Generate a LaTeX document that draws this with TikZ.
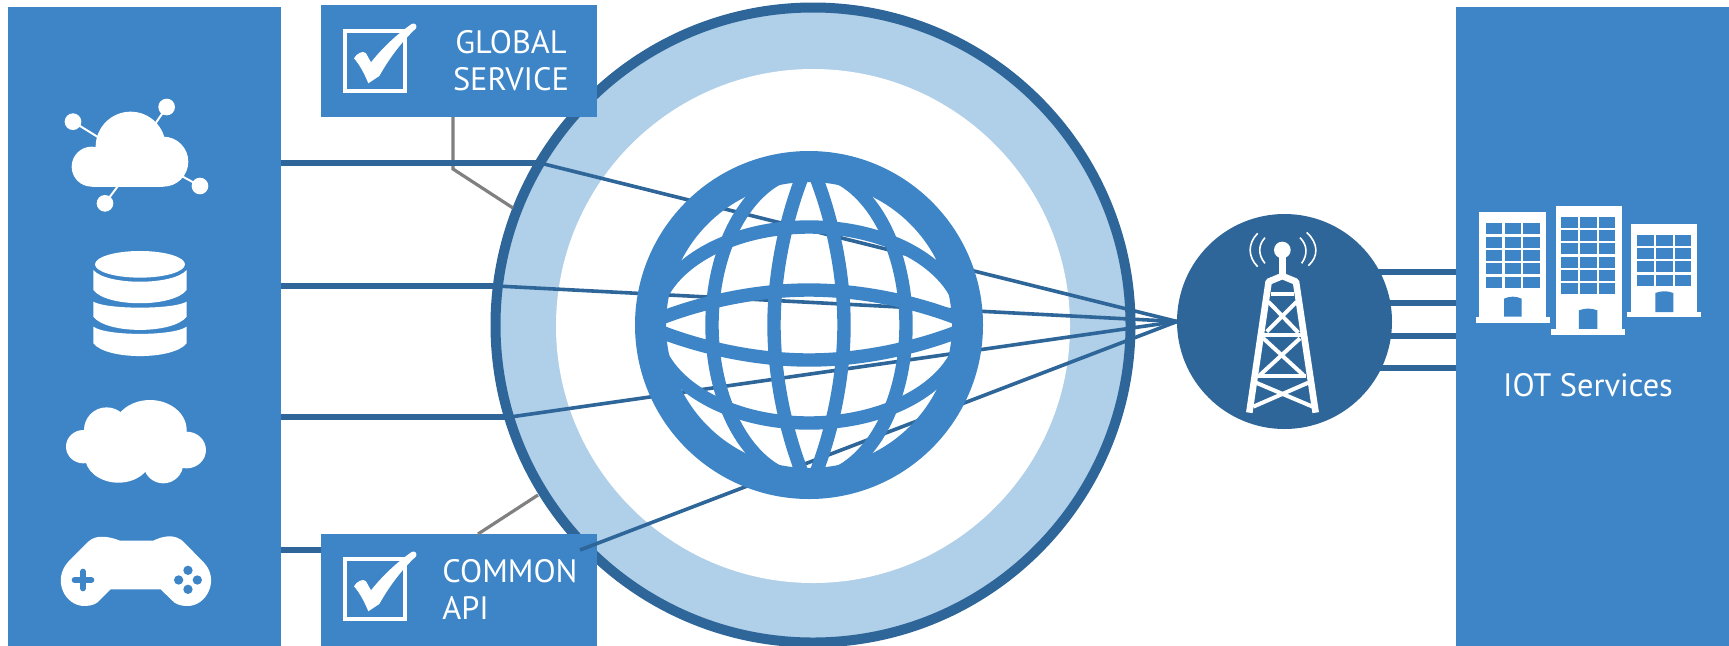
\documentclass[tikz,border=0pt]{standalone}
\usepackage{fontspec}
\setmainfont{PT Sans}
\usepackage{xcolor}
\definecolor{panelblue}{HTML}{3D85C6}
\definecolor{darkblue}{HTML}{2E6699}
\definecolor{ringblue}{HTML}{B0CFE9}
\definecolor{leadgray}{HTML}{808080}
\begin{document}
\begin{tikzpicture}[
    x=0.5pt, y=-0.5pt,
    panel/.style={rectangle, fill=panelblue, inner sep=0pt, outer sep=0pt},
    label/.style={text=white, font=\fontsize{16.2}{18.5}\selectfont, inner sep=0pt},
    wire/.style={draw=darkblue, line width=2.7pt},
    link/.style={draw=darkblue, line width=1.8pt},
    lead/.style={draw=leadgray, line width=1.6pt},
    gridline/.style={draw=panelblue, line width=6.7pt},
    icon/.style={fill=white},
    hole/.style={fill=panelblue},
    tickbox/.pic={
        \draw[white, line width=2pt] (104,94) rectangle (284,272);
        \fill[icon] (132,175) .. controls (140,160) and (160,150) .. (168,160) -- (183,187)
            .. controls (220,140) and (265,100) .. (305,72) .. controls (315,66) and (323,78) .. (318,85)
            .. controls (270,130) and (235,180) .. (208,228) -- (175,250)
            .. controls (165,225) and (150,195) .. (132,175) -- cycle;
    }
]
    \useasboundingbox (0,0) rectangle (1729,645);
    % Panels
    \node[panel, minimum width=136.5pt, minimum height=319.5pt] (sources) at (144.5,326) {};
    \node[panel, minimum width=136.5pt, minimum height=319.5pt] (iot) at (1592.5,326) {};
    % Ring
    \node[circle, draw=darkblue, fill=ringblue, line width=5pt, minimum size=317.5pt, inner sep=0pt, outer sep=0pt] (ring) at (813,325) {};
    \node[circle, fill=white, minimum size=257pt, inner sep=0pt, outer sep=0pt] (hole) at (813,326) {};
    % Hub
    \node[circle, fill=darkblue, minimum size=107.5pt, inner sep=0pt, outer sep=0pt] (hub) at (1284.5,321.5) {};
    % Boxes
    \node[panel, minimum width=138pt, minimum height=56pt] (global) at (459,61) {};
    \node[panel, minimum width=138pt, minimum height=56pt] (common) at (459,590) {};
    % Leads
    \coordinate (bend) at (453,169);
    \coordinate (globalend) at (513,208);
    \coordinate (commonstart) at (478,534);
    \coordinate (commonend) at (538,495);
    \draw[lead] (global.south -| bend) -- (bend) -- (globalend);
    \draw[lead] (commonstart) -- (commonend);
    % Wires
    \coordinate (in1) at (540,163);
    \coordinate (in2) at (497,286);
    \coordinate (in3) at (510,417);
    \coordinate (in4) at (580,550);
    \draw[wire] (in1 -| sources.east) -- (in1);
    \draw[wire] (in2 -| sources.east) -- (in2);
    \draw[wire] (in3 -| sources.east) -- (in3);
    \draw[wire] (in4 -| sources.east) -- (in4 -| common.west);
    \draw[link] (in1) -- (hub.west);
    \draw[link] (in2) -- (hub.west);
    \draw[link] (in3) -- (hub.west);
    \draw[link] (in4) -- (hub.west);
    \foreach \n/\yy in {1/272, 2/303, 3/336, 4/368} {
        \coordinate (out\n) at (1456,\yy);
        \draw[wire] (out\n -| hub.center) -- (out\n);
    }
    % Globe
    \begin{scope}[shift={(809,325)}]
        \clip (0,0) circle (170);
        \draw[gridline] (0,-165) .. controls (24,-110) and (35,-50) .. (35,0) .. controls (35,50) and (24,110) .. (0,165)
            .. controls (-24,110) and (-35,50) .. (-35,0) .. controls (-35,-50) and (-24,-110) .. (0,-165) -- cycle;
        \draw[gridline] (-165,0) .. controls (-110,-24) and (-50,-35) .. (0,-35) .. controls (50,-35) and (110,-24) .. (165,0)
            .. controls (110,24) and (50,35) .. (0,35) .. controls (-50,35) and (-110,24) .. (-165,0) -- cycle;
        \draw[gridline] (0,0) ellipse [x radius=97, y radius=155];
        \draw[gridline] (0,0) ellipse [x radius=155, y radius=98];
    \end{scope}
    \node[circle, draw=panelblue, line width=15.5pt, minimum size=158.5pt, inner sep=0pt, outer sep=0pt] (globe) at (809,325) {};
    % Box content
    \pic[scale=0.3333] at (310,0) {tickbox};
    \pic[scale=0.3333] at (310,528) {tickbox};
    \node[label, align=center] (globaltext) at (511,61) {GLOBAL\\SERVICE};
    \node[label, align=left, anchor=west] (commontext) at (442,589) {COMMON\\API};
    \node[label] (iottext) at (1588,385) {IOT Services};
    % Connected cloud
    \begin{scope}[shift={(0,60)}, scale=0.3333]
        \fill[icon] (275,320) circle (60);
        \fill[icon] (392,260) circle (105);
        \fill[icon] (490,305) circle (75);
        \fill[icon] (275,260) rectangle (490,380);
        \fill[icon] (219,185) circle (25);
        \fill[icon] (500,141) circle (25);
        \fill[icon] (600,378) circle (25);
        \fill[icon] (315,430) circle (25);
        \draw[white, line width=1pt] (219,185) -- (300,235);
        \draw[white, line width=1pt] (500,141) -- (460,200);
        \draw[white, line width=1pt] (600,378) -- (530,340);
        \draw[white, line width=1pt] (315,430) -- (360,370);
        % Database
        \fill[icon] (420,613) ellipse [x radius=135, y radius=40];
        \fill[icon] (280,630) .. controls (320,677) and (520,677) .. (560,630) -- (560,690)
            .. controls (520,743) and (320,743) .. (280,690) -- cycle;
        \fill[icon] (280,725) .. controls (320,749) and (520,749) .. (560,725) -- (560,770)
            .. controls (520,823) and (320,823) .. (280,770) -- cycle;
        \fill[icon] (280,800) .. controls (320,829) and (520,829) .. (560,800) -- (560,850)
            .. controls (520,901) and (320,901) .. (280,850) -- cycle;
    \end{scope}
    % Plain cloud
    \begin{scope}[shift={(0,380)}, scale=0.3333]
        \fill[icon] (250,200) ellipse [x radius=52, y radius=50];
        \fill[icon] (320,150) circle (68);
        \fill[icon] (450,150) ellipse [x radius=110, y radius=90];
        \fill[icon] (560,210) ellipse [x radius=58, y radius=55];
        \fill[icon] (355,230) ellipse [x radius=100, y radius=78];
        \fill[icon] (490,250) circle (60);
        % Gamepad
        \fill[icon] (360,482) -- (460,482) .. controls (480,472) and (525,455) .. (555,490) -- (612,548)
            .. controls (660,600) and (620,678) .. (563,678) .. controls (540,678) and (525,672) .. (515,660)
            -- (482,628) -- (332,628) -- (300,660) .. controls (290,672) and (275,678) .. (253,678)
            .. controls (195,678) and (155,600) .. (205,545) -- (265,485)
            .. controls (290,460) and (335,472) .. (360,482) -- cycle;
        \draw[panelblue, line width=3pt, line cap=round] (224,600) -- (274,600);
        \draw[panelblue, line width=3pt, line cap=round] (249,575) -- (249,625);
        \fill[hole] (564,571) circle (14) (536,600) circle (14) (592,600) circle (14) (564,628) circle (14);
    \end{scope}
    % Tower
    \begin{scope}[shift={(1120,200)}, scale=0.3333]
        \fill[icon] (487,150) circle (25);
        \fill[icon] (478,170) rectangle (498,225);
        \draw[white, line width=3.3pt, line join=round] (388,638) -- (446,245) -- (487,228) -- (528,245) -- (587,638);
        \draw[white, line width=2pt] (452,282) -- (522,282);
        \draw[white, line width=2pt] (432,405) -- (543,405);
        \draw[white, line width=2pt] (415,528) -- (558,528);
        \draw[white, line width=2pt] (445,305) -- (535,398);
        \draw[white, line width=2pt] (530,305) -- (440,395);
        \draw[white, line width=2pt] (430,415) -- (550,525);
        \draw[white, line width=2pt] (540,415) -- (420,525);
        \draw[white, line width=2pt] (400,620) -- (565,548);
        \draw[white, line width=2pt] (408,548) -- (578,620);
        \draw[white, line width=0.8pt] (413,100) .. controls (383,130) and (383,170) .. (413,200);
        \draw[white, line width=0.8pt] (435,113) .. controls (414,135) and (414,165) .. (435,190);
        \draw[white, line width=0.8pt] (560,97) .. controls (596,130) and (596,170) .. (565,197);
        \draw[white, line width=0.8pt] (540,113) .. controls (563,135) and (563,165) .. (545,190);
    \end{scope}
    % Buildings
    \begin{scope}[shift={(1370,190)}, scale=0.3333]
        \fill[icon] (328,66) rectangle (527,380);
        \fill[icon] (318,380) rectangle (540,398);
        \foreach \xa in {347,404,460}
            \foreach \ya in {100,141,180,220,261}
                \fill[hole] (\xa,\ya) rectangle ++(49,33);
        \fill[hole] (402,380) -- (402,326) .. controls (420,318) and (437,318) .. (455,326) -- (455,380) -- cycle;
        \fill[icon] (557,48) rectangle (755,417);
        \fill[icon] (543,417) rectangle (765,435);
        \foreach \xa in {574,631,687}
            \foreach \ya in {80,120,160,201,241,280}
                \fill[hole] (\xa,\ya) rectangle ++(49,33);
        \fill[hole] (627,417) -- (627,361) .. controls (645,354) and (664,354) .. (682,361) -- (682,417) -- cycle;
        \fill[icon] (784,102) rectangle (982,366);
        \fill[icon] (771,366) rectangle (994,380);
        \foreach \xa in {802,859,915}
            \foreach \ya in {134,174,214,254}
                \fill[hole] (\xa,\ya) rectangle ++(49,33);
        \fill[hole] (856,366) -- (856,309) .. controls (874,302) and (892,302) .. (910,309) -- (910,366) -- cycle;
    \end{scope}
\end{tikzpicture}
\end{document}
